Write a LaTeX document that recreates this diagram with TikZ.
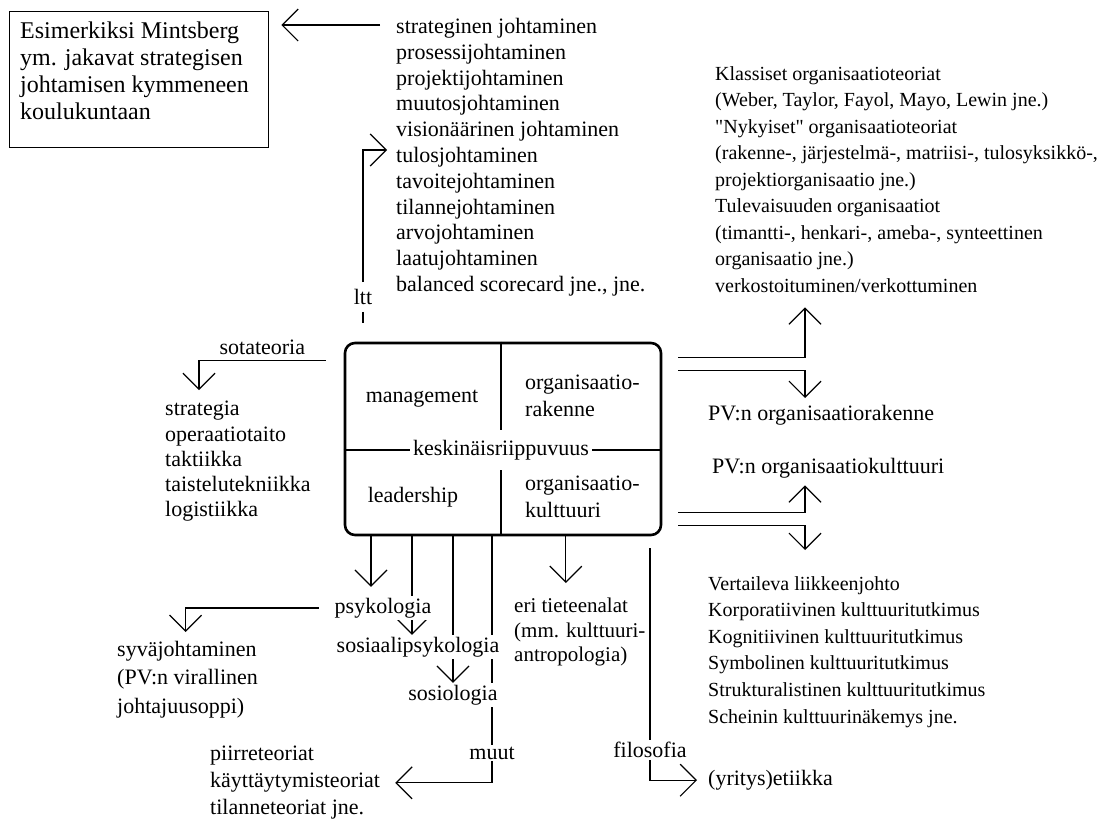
\documentclass[tikz,border=0pt]{standalone}
\usepackage{fontspec}
\setmainfont{Liberation Serif}
\usepackage{tikz}
\usetikzlibrary{arrows.meta,backgrounds}

\begin{document}
\begin{tikzpicture}[
  x=1pt, y=-1pt,
  lista/.style 2 args={inner sep=0pt, align=left, anchor=north west, font=\fontsize{#1}{#2}\selectfont},
  sana/.style={inner sep=2pt, fill=white, font=\fontsize{22}{26}\selectfont},
  nuoli/.style={-{Straight Barb[length=16pt, width=32pt]}, line width=1.2pt},
  viiva/.style={line width=1.2pt}
]
  \useasboundingbox (0,0) rectangle (1101,819);

  % koulukunnat
  \node[draw, line width=1.3pt, minimum width=259pt, minimum height=136pt, anchor=north west] (koulu) at (9,11) {};
  \node[lista={24}{26.8}] (koulut) at (20,22) {Esimerkiksi Mintsberg\\ym. jakavat strategisen\\johtamisen kymmeneen\\koulukuntaan};

  % johtamisopit
  \node[lista={22}{25.8}] (johto) at (396,18) {strateginen johtaminen\\prosessijohtaminen\\projektijohtaminen\\muutosjohtaminen\\visionäärinen johtaminen\\tulosjohtaminen\\tavoitejohtaminen\\tilannejohtaminen\\arvojohtaminen\\laatujohtaminen\\balanced scorecard jne., jne.};
  \draw[nuoli] ([shift={(-16,7)}]johto.north west) -- ([shift={(12,14)}]koulu.north east);

  % keskimmainen laatikko
  \node[draw, line width=2.6pt, rounded corners=10pt, minimum width=316pt, minimum height=192pt] (keskus) at (503,439) {};
  \node[sana, inner xsep=3pt, inner ysep=10pt] (keski) at (501,450) {keskinäisriippuvuus};
  \draw[viiva] (keski.north |- keskus.north) -- (keski.north);
  \draw[viiva] (keski.south) -- (keski.south |- keskus.south);
  \draw[viiva] (keskus.west |- keski.west) -- (keski.west);
  \draw[viiva] (keski.east) -- (keskus.east |- keski.east);
  \node[sana] (mgmt) at (422,399) {management};
  \node[lista={22}{27}] (rakenne) at (525,375) {organisaatio-\\rakenne};
  \node[sana] (lead) at (413,497) {leadership};
  \node[lista={22}{27}] (kult) at (525,476) {organisaatio-\\kulttuuri};

  % ltt
  \node[sana, inner sep=7pt] (ltt) at (363,297) {ltt};
  \draw[nuoli] (ltt.north) |- ([shift={(-9,132)}]johto.north west);
  \draw[viiva] (ltt.south) -- ++(0,11);

  % sotateoria
  \node[lista={22}{25.3}] (sota) at (165,401) {strategia\\operaatiotaito\\taktiikka\\taistelutekniikka\\logistiikka};
  \draw[nuoli] ([shift={(-18,19)}]keskus.north west) -| ([shift={(34,-11)}]sota.north west)
    node[pos=0.25, above=2pt, font=\fontsize{22}{26}\selectfont] (sotat) {sotateoria};

  % organisaatiot
  \node[lista={20}{26.5}] (klass) at (715,66) {Klassiset organisaatioteoriat\\(Weber, Taylor, Fayol, Mayo, Lewin jne.)\\\textquotedbl Nykyiset\textquotedbl{} organisaatioteoriat\\(rakenne-, järjestelmä-, matriisi-, tulosyksikkö-,\\projektiorganisaatio jne.)\\Tulevaisuuden organisaatiot\\(timantti-, henkari-, ameba-, synteettinen\\organisaatio jne.)\\verkostoituminen/verkottuminen};
  \node[lista={22}{26}] (pvrak) at (708,405) {PV:n organisaatiorakenne};
  \node[lista={22}{26}] (pvkult) at (712,458) {PV:n organisaatiokulttuuri};
  \node[lista={20}{26.6}] (vert) at (708,576) {Vertaileva liikkeenjohto\\Korporatiivinen kulttuuritutkimus\\Kognitiivinen kulttuuritutkimus\\Symbolinen kulttuuritutkimus\\Strukturalistinen kulttuuritutkimus\\Scheinin kulttuurinäkemys jne.};
  \draw[nuoli] ([shift={(16,16)}]keskus.north east) -| ([shift={(90,15)}]klass.south west);
  \draw[nuoli] ([shift={(16,29)}]keskus.north east) -| ([shift={(97,-7)}]pvrak.north west);
  \draw[nuoli] ([shift={(16,-24)}]keskus.south east) -| ([shift={(93,7)}]pvkult.south west);
  \draw[nuoli] ([shift={(16,-11)}]keskus.south east) -| ([shift={(97,-26)}]vert.north west);

  % tieteenalat
  \node[sana] (psyk) at (383,608) {psykologia};
  \node[sana] (sospsy) at (418,647) {sosiaalipsykologia};
  \node[sana] (sosio) at (453,695) {sosiologia};
  \node[sana] (muut) at (492,753) {muut};
  \node[lista={21}{24.5}] (eri) at (514,598) {eri tieteenalat\\(mm. kulttuuri-\\antropologia)};
  \node[sana] (filo) at (650,750) {filosofia};
  \node[lista={22}{26}] (etiikka) at (708,770) {(yritys)etiikka};
  \node[lista={22}{28.5}] (syva) at (117,641) {syväjohtaminen\\(PV:n virallinen\\johtajuusoppi)};
  \node[lista={22}{27}] (piirre) at (210,746) {piirreteoriat\\käyttäytymisteoriat\\tilanneteoriat jne.};

  \begin{scope}[on background layer]
    \draw[nuoli] ([xshift=-12pt]psyk.north |- keskus.south) -- ([shift={(-12,-9)}]psyk.north);
    \draw[nuoli] ([xshift=-6pt]sospsy.north |- keskus.south) -- ([xshift=-6pt]sospsy.north);
    \draw[nuoli] (sosio.north |- keskus.south) -- (sosio.north);
    \draw[nuoli] (muut.north |- keskus.south) |- ([xshift=15pt]piirre.east);
  \end{scope}
  \draw[nuoli] ([xshift=-14pt]psyk.west) -| ([shift={(-2,-9)}]syva.north);
  \draw[nuoli] ([xshift=-14pt]eri.north |- keskus.south) -- ([shift={(-14,-15)}]eri.north);
  \draw[viiva] ([yshift=-12pt]keskus.south -| filo.north) -- (filo.north);
  \draw[nuoli] (filo.south) |- ([xshift=-11pt]etiikka.west);
\end{tikzpicture}
\end{document}
